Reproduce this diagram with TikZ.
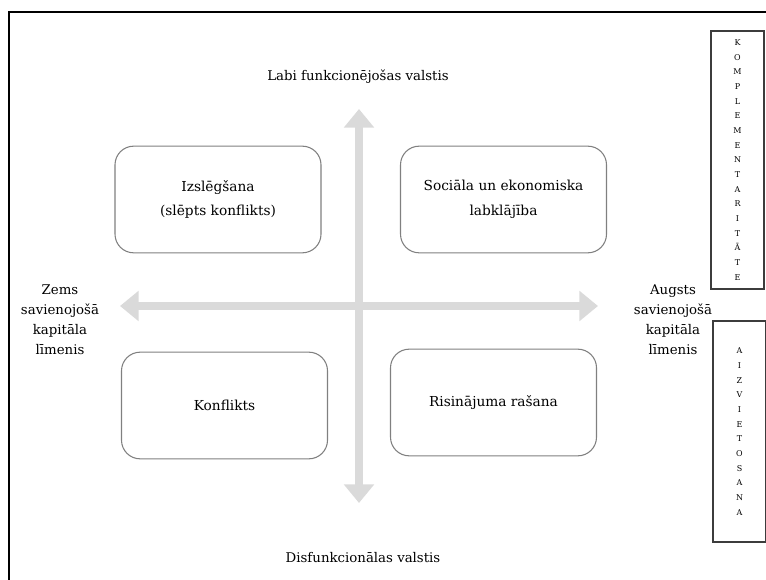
\documentclass[tikz,border=0pt]{standalone}
\usepackage{fontspec}
\setmainfont{DejaVu Serif}
\usetikzlibrary{arrows.meta}
\usetikzlibrary{positioning}
\definecolor{myarrowgray}{RGB}{218,218,218}
\definecolor{myboxgray}{RGB}{128,128,128}
\definecolor{mysidegray}{RGB}{60,60,60}
\newcommand\myquad[4][]{%
  \node[myquad,#1] (#2) at (#3) {#4};
}

\begin{document}
\begin{tikzpicture}[
x=0.75pt,y=-0.75pt,
myquad/.style={
  rectangle,
  rounded corners=14pt,
  draw=myboxgray,
  line width=0.8pt,
  minimum width=154.5pt,
  minimum height=80pt,
  align=center,
  font=\fontsize{10.3}{18.5}\selectfont},
mylabel/.style={
  align=center,
  font=\fontsize{10}{15}\selectfont},
mysidebox/.style={
  rectangle,
  draw=mysidegray,
  line width=1.1pt,
  inner sep=0pt,
  minimum width=39.75pt,
  align=center,
  font=\fontsize{6}{11}\selectfont},
mybigarrow/.style={
  draw=myarrowgray,
  line width=6pt,
  {Triangle[width=22pt,length=14pt]}-{Triangle[width=22pt,length=14pt]}}
]
\useasboundingbox (0,0) rectangle (766,580);
% frame
\draw[line width=1.4pt] (9,580) |- (766,12);
% axes
\coordinate (vtop) at (359,109);
\coordinate (vbot) at (359,503);
\coordinate (hleft) at (120,306);
\coordinate (hright) at (598,306);
\draw[mybigarrow] (vtop) -- (vbot);
\draw[mybigarrow] (hleft) -- (hright);
% quadrants
\myquad{izsl}{218,199.5}{Izslēgšana\\(slēpts konflikts)}
\myquad{socl}{503.5,199.5}{Sociāla un ekonomiska\\labklājība}
\myquad{konf}{224.5,405.5}{Konflikts}
\myquad{risi}{493.5,402.5}{Risinājuma rašana}
% axis labels
\node[mylabel] (labi) at (358,77) {Labi funkcionējošas valstis};
\node[mylabel] (disf) at (363,558) {Disfunkcionālas valstis};
\node[mylabel] (zems) at (60,320) {Zems\\savienojošā\\kapitāla\\līmenis};
\node[mylabel] (augs) at (673,320) {Augsts\\savienojošā\\kapitāla\\līmenis};
% side boxes
\node[mysidebox,minimum height=193.5pt] (kompl) at (737.5,160)
  {K\\O\\M\\P\\L\\E\\M\\E\\N\\T\\A\\R\\I\\T\\Ā\\T\\E};
\node[mysidebox,minimum height=165.75pt] (aizv) at (739.5,431.5)
  {A\\I\\Z\\V\\I\\E\\T\\O\\S\\A\\N\\A};
\end{tikzpicture}
\end{document}
